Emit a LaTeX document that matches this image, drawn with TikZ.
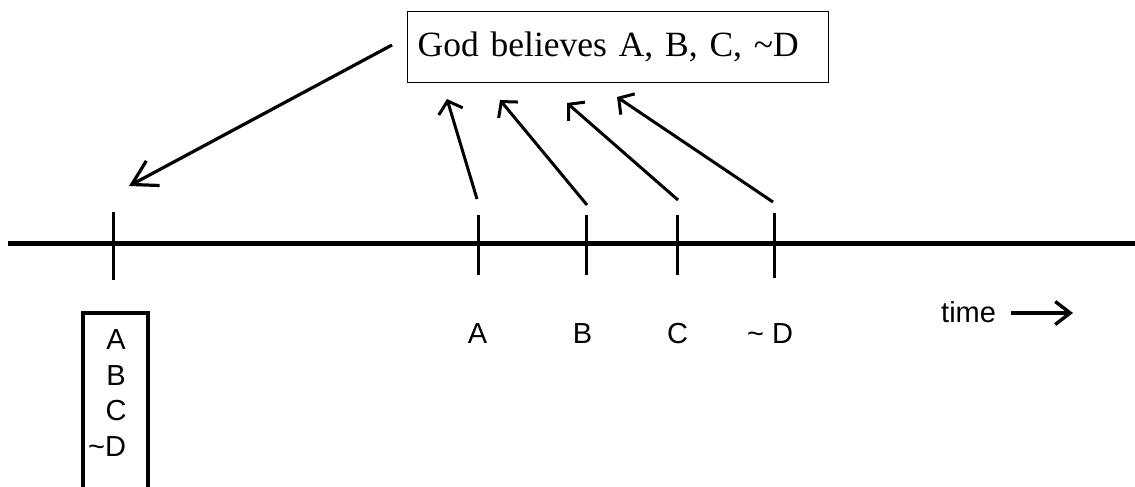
\documentclass[tikz,border=0pt]{standalone}
\usepackage{fontspec}
\setmainfont{Liberation Serif}
\setsansfont{Liberation Sans}
\usetikzlibrary{arrows.meta}
\begin{document}
\begin{tikzpicture}[x=1pt,y=-1pt,
  lbl/.style={font=\sffamily\fontsize{29}{35}\selectfont, anchor=base, inner sep=0pt},
  tickline/.style={line width=3pt},
  uparr/.style={line width=3pt, -{Straight Barb[length=11pt,width=25pt]}},
  bigarr/.style={line width=3.2pt, -{Straight Barb[length=24pt,width=28pt]}},
  timearr/.style={line width=3.4pt, -{Straight Barb[length=15pt,width=23pt]}}]
\useasboundingbox (0,0) rectangle (1135,487);
\clip (0,0) rectangle (1135,487);

% top box
\node[draw, line width=1.4pt, anchor=north west, minimum width=421pt, minimum height=71pt,
      text width=401pt, inner xsep=10pt, align=left,
      font=\fontsize{35.5}{40}\selectfont] (god) at (407,11) {God believes A, B, C, \textasciitilde D};

% timeline
\coordinate (tl) at (8,243);
\coordinate (tr) at (1135,243);
\draw[line width=5pt] (tl) -- (tr);

% ticks
\coordinate (t0a) at (113,212); \coordinate (t0b) at (113,280);
\coordinate (t1a) at (478,215); \coordinate (t1b) at (478,275);
\coordinate (t2a) at (586,215); \coordinate (t2b) at (586,275);
\coordinate (t3a) at (677,215); \coordinate (t3b) at (677,275);
\coordinate (t4a) at (774,213); \coordinate (t4b) at (774,278);
\foreach \i in {0,...,4} {\draw[tickline] (t\i a) -- (t\i b);}

% arrows up to the box
\coordinate (s1) at (477,199); \coordinate (e1) at (447,99);
\coordinate (s2) at (587,205); \coordinate (e2) at (500,100);
\coordinate (s3) at (678,200); \coordinate (e3) at (567,103);
\coordinate (s4) at (773,202); \coordinate (e4) at (617,97);
\foreach \i in {1,...,4} {\draw[uparr] (s\i) -- (e\i);}

% big arrow from box to first tick
\coordinate (bs) at (392,45);
\coordinate (be) at (129,186);
\draw[bigarr] (bs) -- (be);

% labels under ticks
\node[lbl] (la) at (477.5,343) {A};
\node[lbl] (lb) at (582.5,343) {B};
\node[lbl] (lc) at (677.5,343) {C};
\node[lbl, anchor=base west] (ld) at (747,343) {\textasciitilde\ D};

% time
\node[lbl, anchor=base west] (time) at (941,322) {time};
\coordinate (ts) at (1011,313);
\coordinate (te) at (1073,313);
\draw[timearr] (ts) -- (te);

% left stack box
\node[draw, line width=3.5pt, anchor=north, minimum width=65pt, minimum height=220pt] (stack) at (115.5,311) {};
\node[lbl] (sa) at (116,349) {A};
\node[lbl] (sb) at (116,385) {B};
\node[lbl] (sc) at (116,420) {C};
\node[lbl, anchor=base west] (sd) at (88,456) {\textasciitilde D};
\end{tikzpicture}
\end{document}
